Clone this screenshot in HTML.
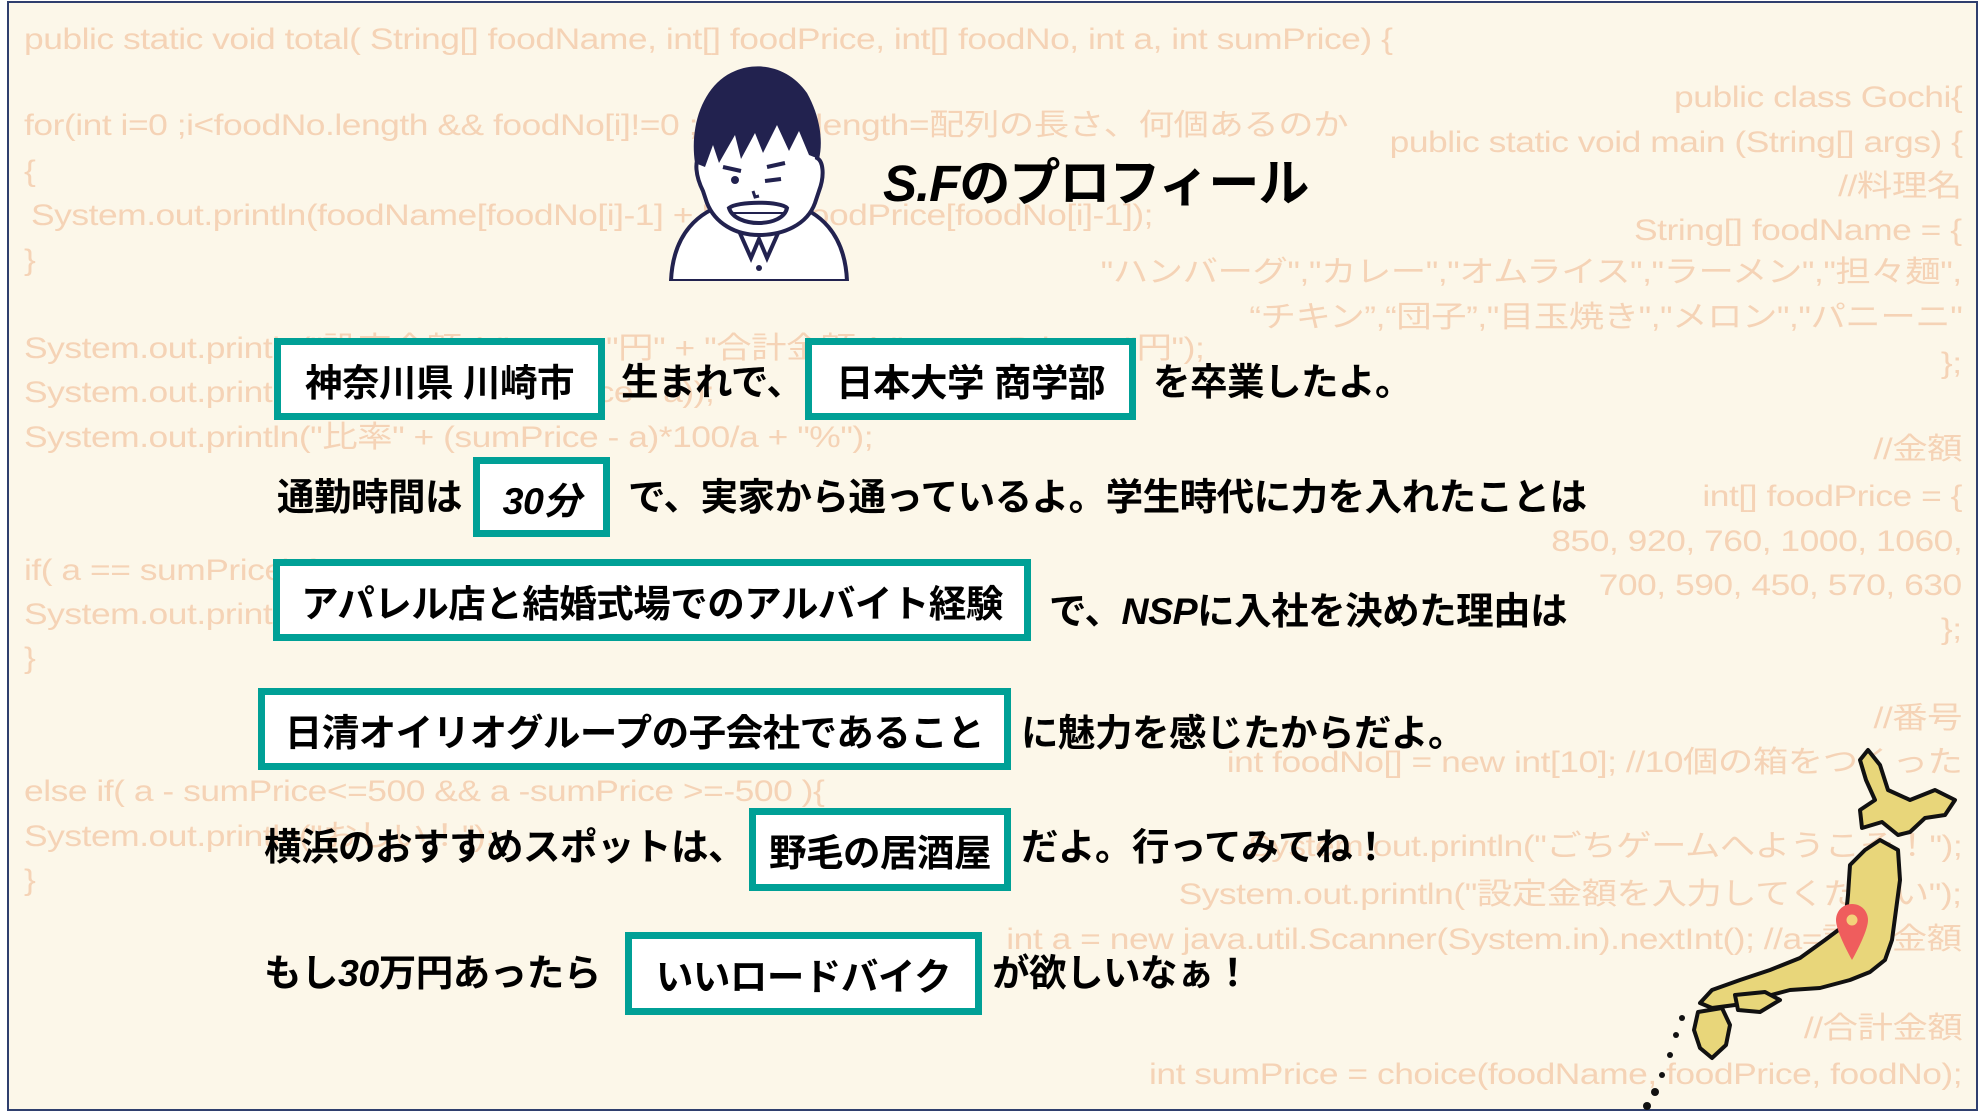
<!DOCTYPE html>
<html><head><meta charset="utf-8">
<style>
*{margin:0;padding:0;box-sizing:border-box}
body{width:1985px;height:1113px;overflow:hidden;background:#fff;position:relative}
#f{position:absolute;left:7px;top:1px;width:1971px;height:1110px;background:#fcf7e9;border:2px solid #2f3f6e;overflow:hidden}
.c{position:absolute;font-family:"Liberation Sans","Noto Sans CJK JP",sans-serif;font-size:30px;color:#f5d3b6;white-space:nowrap;letter-spacing:-0.4px;line-height:1;transform:scaleX(1.18);transform-origin:left top}
.r{transform-origin:right top}
.t{position:absolute;font-family:"Liberation Sans","Noto Sans CJK JP",sans-serif;font-weight:bold;font-size:37.5px;color:#000;white-space:nowrap;line-height:1;letter-spacing:-0.5px}
.b{position:absolute;background:#fff;border:7px solid #00a096;display:flex;align-items:center;justify-content:center;font-family:"Liberation Sans","Noto Sans CJK JP",sans-serif;font-weight:bold;font-size:37.5px;color:#000;white-space:nowrap;letter-spacing:-0.5px}
</style></head><body>
<div id="f">
<div class="c" style="left:15px;top:22px">public static void total( String[] foodName, int[] foodPrice, int[] foodNo, int a, int sumPrice) {</div>
<div class="c" style="left:15px;top:108px">for(int i=0 ;i&lt;foodNo.length &amp;&amp; foodNo[i]!=0 ; i++) { //length=配列の長さ、何個あるのか</div>
<div class="c" style="left:15px;top:154px">{</div>
<div class="c" style="left:22px;top:198px">System.out.println(foodName[foodNo[i]-1] + "　" + foodPrice[foodNo[i]-1]);</div>
<div class="c" style="left:15px;top:243px">}</div>
<div class="c" style="left:15px;top:331px">System.out.println("設定金額：" + a + "円" + "合計金額：" + sumPrice + "円");</div>
<div class="c" style="left:15px;top:375px">System.out.println("差額：" + (sumPrice - a));</div>
<div class="c" style="left:15px;top:420px">System.out.println("比率" + (sumPrice - a)*100/a + "%");</div>
<div class="c" style="left:15px;top:553px">if( a == sumPrice) {</div>
<div class="c" style="left:15px;top:597px">System.out.println("ぴったり！");</div>
<div class="c" style="left:15px;top:641px">}</div>
<div class="c" style="left:15px;top:774px">else if( a - sumPrice&lt;=500 &amp;&amp; a -sumPrice &gt;=-500 ){</div>
<div class="c" style="left:15px;top:819px">System.out.println("おしい！");</div>
<div class="c" style="left:15px;top:863px">}</div>
<div class="c r" style="right:14px;top:80px">public class Gochi{</div>
<div class="c r" style="right:14px;top:125px">public static void main (String[] args) {</div>
<div class="c r" style="right:14px;top:169px">//料理名</div>
<div class="c r" style="right:14px;top:213px">String[] foodName = {</div>
<div class="c r" style="right:14px;top:255px">"ハンバーグ","カレー","オムライス","ラーメン","担々麺",</div>
<div class="c r" style="right:14px;top:300px">“チキン”,“団子”,"目玉焼き","メロン","パニーニ"</div>
<div class="c r" style="right:14px;top:346px">};</div>
<div class="c r" style="right:14px;top:432px">//金額</div>
<div class="c r" style="right:14px;top:479px">int[] foodPrice = {</div>
<div class="c r" style="right:14px;top:524px">850, 920, 760, 1000, 1060,</div>
<div class="c r" style="right:14px;top:568px">700, 590, 450, 570, 630</div>
<div class="c r" style="right:14px;top:612px">};</div>
<div class="c r" style="right:14px;top:701px">//番号</div>
<div class="c r" style="right:14px;top:745px">int foodNo[] = new int[10]; //10個の箱をつくった</div>
<div class="c r" style="right:14px;top:829px">System.out.println("ごちゲームへようこそ！");</div>
<div class="c r" style="right:14px;top:877px">System.out.println("設定金額を入力してください");</div>
<div class="c r" style="right:14px;top:922px">int a = new java.util.Scanner(System.in).nextInt(); //a=設定金額</div>
<div class="c r" style="right:14px;top:1011px">//合計金額</div>
<div class="c r" style="right:14px;top:1057px">int sumPrice = choice(foodName, foodPrice, foodNo);</div>

<svg style="position:absolute;left:650px;top:60px" width="200" height="218" viewBox="0 0 200 218">
<path d="M12 218 C14 170 40 148 70 140 L130 140 C160 148 186 170 188 218 Z" fill="#fff" stroke="#22224f" stroke-width="4"/>
<path d="M72 150 L92 195 L100 176 L108 195 L128 150" fill="none" stroke="#22224f" stroke-width="4"/>
<circle cx="100" cy="205" r="3" fill="#22224f"/>
<path d="M40 95 C36 70 44 40 60 30 C80 22 120 22 140 35 C156 48 160 80 158 95 C164 98 166 112 160 128 L156 140 C148 162 124 172 100 172 C76 172 56 160 48 140 L44 128 C36 112 36 98 40 95 Z" fill="#fff" stroke="#22224f" stroke-width="4"/>
<path d="M36 100 C30 60 46 20 76 8 C100 -2 130 4 148 30 C162 55 164 80 160 96 L150 92 L140 68 L130 88 L118 62 L104 90 L96 70 L82 96 L76 72 L60 100 L54 82 L46 104 Z" fill="#22224f"/>
<path d="M64 104 L82 108 M108 104 L126 100" stroke="#22224f" stroke-width="4"/>
<ellipse cx="76" cy="117" rx="4" ry="4" fill="#22224f"/><path d="M106 118 L122 116" stroke="#22224f" stroke-width="4"/>
<path d="M94 128 L96 134 L100 133" stroke="#22224f" stroke-width="3" fill="none"/>
<path d="M70 145 C78 138 122 138 128 145 C124 165 76 165 70 145 Z" fill="#fff" stroke="#22224f" stroke-width="4"/>
<path d="M72 150 L126 150" stroke="#22224f" stroke-width="2"/>
</svg>
<div class="t" style="left:874px;top:155px;font-size:51px;letter-spacing:-1px"><i>S.F</i>のプロフィール</div>

<div class="b" style="left:265px;top:335px;width:331px;height:82px">神奈川県 川崎市</div>
<div class="t" style="left:612px;top:361px">生まれで、</div>
<div class="b" style="left:796px;top:335px;width:331px;height:82px">日本大学 商学部</div>
<div class="t" style="left:1144px;top:361px">を卒業したよ。</div>
<div class="t" style="left:268px;top:476px">通勤時間は</div>
<div class="b" style="left:464px;top:454px;width:137px;height:80px;font-style:italic">30分</div>
<div class="t" style="left:619px;top:476px">で、実家から通っているよ。学生時代に力を入れたことは</div>
<div class="b" style="left:264px;top:556px;width:758px;height:82px">アパレル店と結婚式場でのアルバイト経験</div>
<div class="t" style="left:1040px;top:590px">で、<i>NSP</i>に入社を決めた理由は</div>
<div class="b" style="left:249px;top:685px;width:753px;height:82px">日清オイリオグループの子会社であること</div>
<div class="t" style="left:1012px;top:712px">に魅力を感じたからだよ。</div>
<div class="t" style="left:255px;top:826px">横浜のおすすめスポットは、</div>
<div class="b" style="left:740px;top:805px;width:262px;height:83px">野毛の居酒屋</div>
<div class="t" style="left:1012px;top:826px">だよ。行ってみてね！</div>
<div class="t" style="left:255px;top:952px">もし<i>30</i>万円あったら</div>
<div class="b" style="left:616px;top:929px;width:357px;height:83px">いいロードバイク</div>
<div class="t" style="left:983px;top:952px">が欲しいなぁ！</div>
</div>

<svg style="position:absolute;left:0;top:0" width="1985" height="1113" viewBox="0 0 1985 1113">
<g fill="#e8d67a" stroke="#111" stroke-width="4" stroke-linejoin="round">
<path d="M1868,750 L1880,765 L1888,790 L1910,800 L1935,790 L1955,800 L1945,815 L1925,818 L1910,832 L1898,835 L1882,822 L1862,828 L1860,810 L1875,800 L1866,780 L1860,760 Z"/>
<path d="M1880,840 L1898,850 L1900,880 L1896,910 L1892,940 L1885,960 L1870,972 L1850,980 L1820,988 L1790,990 L1760,998 L1735,1005 L1712,1008 L1700,1003 L1712,990 L1740,980 L1770,970 L1800,958 L1825,940 L1845,925 L1848,895 L1850,865 L1865,850 Z"/>
<path d="M1698,1012 L1722,1008 L1730,1025 L1726,1045 L1712,1058 L1700,1048 L1694,1030 Z"/>
<path d="M1735,995 L1765,992 L1780,1000 L1760,1012 L1738,1010 Z"/>
</g>
<g fill="#111"><circle cx="1682" cy="1018" r="3"/><circle cx="1676" cy="1035" r="3"/><circle cx="1670" cy="1055" r="3"/><circle cx="1662" cy="1075" r="3"/><circle cx="1655" cy="1092" r="4"/><circle cx="1647" cy="1106" r="4"/></g>
<path d="M1852 904 C1842 904 1836 912 1836 920 C1836 932 1852 960 1852 960 C1852 960 1868 932 1868 920 C1868 912 1862 904 1852 904 Z" fill="#ef5d5d"/>
<circle cx="1852" cy="920" r="7" fill="#f3d27a" stroke="#ef5d5d" stroke-width="3"/>
</svg>
</body></html>
